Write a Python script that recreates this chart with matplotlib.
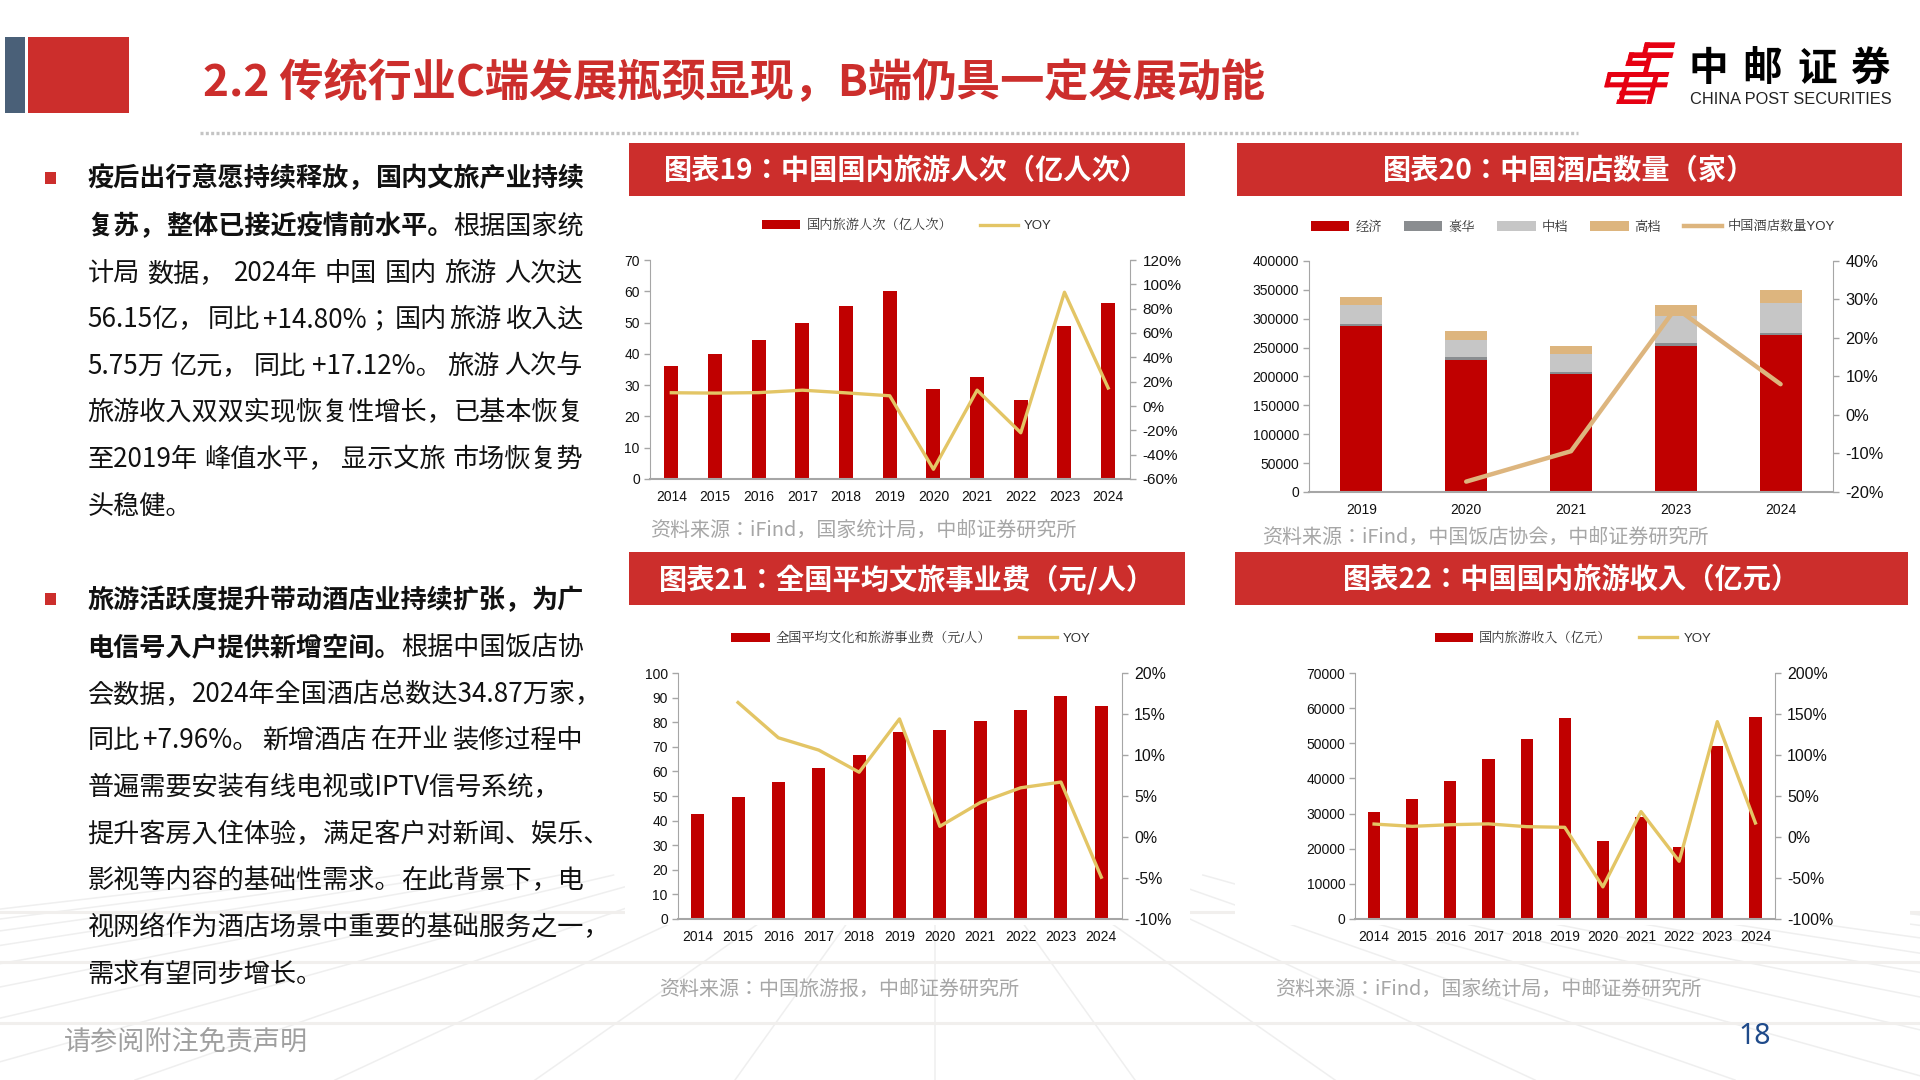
import matplotlib
matplotlib.use("Agg")
import matplotlib.pyplot as plt
import matplotlib.font_manager as fm
from matplotlib.patches import Rectangle, Polygon, Patch
from matplotlib.lines import Line2D

W, H = 1920, 1080
_have = {f.name for f in fm.fontManager.ttflist}
CJK = "Noto Sans CJK SC" if "Noto Sans CJK SC" in _have else "Noto Sans CJK JP"
SERIF = "Noto Serif CJK SC" if "Noto Serif CJK SC" in _have else ("Noto Serif CJK JP" if "Noto Serif CJK JP" in _have else CJK)
LAT = "Liberation Sans"
RED = "#CC2E2C"
BAR = "#C00000"
GOLD = "#E3C565"
TAN = "#DDB57E"
AXC = "#A6A6A6"

# ---------- data ----------
years11 = ["2014", "2015", "2016", "2017", "2018", "2019", "2020", "2021", "2022", "2023", "2024"]
trips = [36.1, 40.0, 44.4, 50.0, 55.4, 60.1, 28.8, 32.5, 25.3, 48.9, 56.15]
trips_yoy = [10.9, 10.6, 11.0, 13.0, 10.8, 8.4, -52.0, 13.0, -22.0, 93.5, 14.8]

hotel_years = ["2019", "2020", "2021", "2023", "2024"]
hotel_econ = [287500, 229400, 203500, 253600, 271000]
hotel_lux = [3500, 4600, 4500, 4400, 4500]
hotel_mid = [32300, 30000, 31000, 47000, 52500]
hotel_high = [14400, 15000, 14000, 18300, 21000]
hotel_yoy = [None, -17.3, -9.4, 27.8, 8.0]

spend = [42.7, 49.6, 55.6, 61.5, 66.5, 76.0, 77.0, 80.3, 85.1, 90.7, 86.4]
spend_yoy = [None, 16.4, 12.1, 10.6, 7.9, 14.4, 1.3, 4.2, 6.0, 6.7, -4.9]

income = [30400, 34200, 39400, 45600, 51200, 57200, 22200, 29100, 20400, 49200, 57500]
income_yoy = [15.8, 13.0, 15.0, 16.0, 12.6, 11.8, -60.8, 31.0, -29.6, 140.7, 17.1]

para1 = [
    [("疫后出行意愿持续释放，", 1), ("国内文旅产业持续", 1)],
    [("复苏，", 1), ("整体已接近疫情前水平。", 1), ("根据国家统", 0)],
    [("计局", 0), ("数据，", 0), ("2024年", 0), ("中国", 0), ("国内", 0), ("旅游", 0), ("人次达", 0)],
    [("56.15亿，", 0), ("同比", 0), ("+14.80%；", 0), ("国内", 0), ("旅游", 0), ("收入达", 0)],
    [("5.75万", 0), ("亿元，", 0), ("同比", 0), ("+17.12%。", 0), ("旅游", 0), ("人次与", 0)],
    [("旅游收入双双实现恢复性增长，", 0), ("已基本恢复", 0)],
    [("至2019年", 0), ("峰值水平，", 0), ("显示文旅", 0), ("市场恢复势", 0)],
    [("头稳健。", 0)],
]
para2 = [
    [("旅游活跃度提升带动酒店业持续扩张，", 1), ("为广", 1)],
    [("电信号入户提供新增空间。", 1), ("根据中国饭店协", 0)],
    [("会数据，", 0), ("2024年全国酒店总数达34.87万家，", 0)],
    [("同比", 0), ("+7.96%。", 0), ("新增酒店", 0), ("在开业", 0), ("装修过程中", 0)],
    [("普遍需要安装有线电视或IPTV信号系统，", 0)],
    [("提升客房入住体验，", 0), ("满足客户对新闻、娱乐、", 0)],
    [("影视等内容的基础性需求。", 0), ("在此背景下，电", 0)],
    [("视网络作为酒店场景中重要的基础服务之一，", 0)],
    [("需求有望同步增长。", 0)],
]
para1_y = [176, 224, 271, 317, 364, 410, 457, 504]
para2_y = [598, 645, 692, 738, 785, 832, 878, 925, 972]
para2_end = [583, 583, 594, 583, 0, 594, 583, 594, 0]

# ---------- figure ----------
fig = plt.figure(figsize=(W / 100, H / 100), dpi=100, facecolor="white")


def fx(x):
    return x / W


def fy(y):
    return 1 - y / H


def rect(x0, y0, x1, y1, color, z=2):
    fig.add_artist(Rectangle((fx(x0), fy(y1)), (x1 - x0) / W, (y1 - y0) / H,
                             transform=fig.transFigure, fc=color, ec="none", zorder=z))


def txt(x, y, s, size, color="black", weight="normal", ha="left", family=CJK, z=5):
    if family == CJK:
        y += 2.5
    return fig.text(fx(x), fy(y), s, fontsize=size, color=color, weight=weight, ha=ha,
                    va="center", family=family, zorder=z)


# faint perspective floor
VPX, VPY = 935, 800
for bx in range(-1465, 3400, 200):
    ys = 875
    t = (ys - VPY) / (1080 - VPY)
    xs = VPX + (bx - VPX) * t
    fig.add_artist(Line2D([fx(xs), fx(bx)], [fy(ys), fy(1080)], color="#EFEFEF", lw=1.1, zorder=0,
                          transform=fig.transFigure))
for yy in (912, 962, 1023):
    fig.add_artist(Line2D([0, 1], [fy(yy), fy(yy)], color="#F1EFED", lw=2.2, zorder=0,
                          transform=fig.transFigure))
# chart images sit on white
rect(625, 610, 1190, 925, "white", z=1)
rect(1235, 610, 1910, 925, "white", z=1)

# header
rect(5, 37, 25, 113, "#4A6078")
rect(28, 37, 129, 113, RED)
txt(203, 80.5, "2.2 传统行业C端发展瓶颈显现，B端仍具一定发展动能", 31.8, RED, "bold")
fig.add_artist(Line2D([fx(200), fx(1578)], [fy(133), fy(133)], color="#C4C4C4", lw=2.4,
                      ls=(0, (0.9, 0.7)), transform=fig.transFigure, zorder=2))

# logo
LOGO = "#E60012"


def lp(x, y):
    return (fx(1600 + x / 3), fy(38 + y / 3))


def bar_poly(x1, x2, y1, y2, s=0.26):
    d = s * (y2 - y1)
    fig.add_artist(Polygon([lp(x1, y1), lp(x2, y1), lp(x2 - d, y2), lp(x1 - d, y2)], closed=True,
                           fc=LOGO, ec="none", transform=fig.transFigure, zorder=3))


for b in [(135, 226, 13, 30), (88, 221, 43, 60), (80, 145, 68, 84), (24, 208, 102, 117),
          (19, 204, 133, 148), (60, 150, 158, 172), (52, 140, 184, 198)]:
    bar_poly(*b)
for b in [(135, 150, 13, 60), (88, 103, 43, 84), (140, 155, 60, 117), (24, 38, 102, 148),
          (74, 89, 117, 198), (160, 175, 117, 198)]:
    bar_poly(*b)
for i, ch in enumerate("中邮证券"):
    txt(1708 + i * 54.4, 66, ch, 28.5, "black", "bold", ha="center")
txt(1690, 99, "CHINA POST SECURITIES", 11.8, "#222222", family=LAT)

# left text
for yy in (178, 599):
    rect(44.5, yy - 6, 56, yy + 6, RED)


def draw_lines(lines, ys, ends):
    r = fig.canvas.get_renderer()
    for runs, y, end in zip(lines, ys, ends):
        items = [txt(0, y, s, 18.8, "#111111", "bold" if b else "normal") for s, b in runs]
        ws = [t.get_window_extent(r).width for t in items]
        gap = 0
        if end and len(items) > 1:
            gap = max(0, (end - 87.5 - sum(ws)) / (len(items) - 1))
        x = 87.5
        for t, w in zip(items, ws):
            t.set_x(fx(x))
            x += w + gap


draw_lines(para1, para1_y, [583] * 7 + [0])
draw_lines(para2, para2_y, para2_end)

# footer
txt(64, 1040, "请参阅附注免责声明", 19.5, "#A0A0A0")
txt(1755, 1037, "18", 20.5, "#1F4A8A", ha="center", family="Noto Sans")

# panel headers
heads = [
    (629, 143, 1185, 196, "图表19：中国国内旅游人次（亿人次）"),
    (1237, 143, 1902, 196, "图表20：中国酒店数量（家）"),
    (629, 552, 1185, 605, "图表21：全国平均文旅事业费（元/人）"),
    (1235, 552, 1908, 605, "图表22：中国国内旅游收入（亿元）"),
]
for x0, y0, x1, y1, s in heads:
    rect(x0, y0, x1, y1, RED)
    txt((x0 + x1) / 2, (y0 + y1) / 2 - 1, s, 20.3, "white", "bold", ha="center")

# source lines
txt(650, 528, "资料来源：iFind，国家统计局，中邮证券研究所", 14.4, "#A6A6A6")
txt(1262, 535, "资料来源：iFind，中国饭店协会，中邮证券研究所", 14.4, "#A6A6A6")
txt(659, 987, "资料来源：中国旅游报，中邮证券研究所", 14.4, "#A6A6A6")
txt(1275, 987, "资料来源：iFind，国家统计局，中邮证券研究所", 14.4, "#A6A6A6")


def panel(x0, x1, y0, y1, cats, ylim, yticks, rlim, rticks, rsize):
    ax = fig.add_axes([fx(x0), fy(y1), (x1 - x0) / W, (y1 - y0) / H])
    ax.patch.set_alpha(0)
    ax.set_xlim(-0.5, len(cats) - 0.5)
    ax.set_ylim(*ylim)
    ax.set_yticks(yticks)
    ax.set_xticks(range(len(cats)))
    ax.set_xticklabels(cats, family=LAT, fontsize=10, color="#111111")
    ax.tick_params(axis="x", length=0, pad=8)
    ax.tick_params(axis="y", length=4, width=1, color=AXC, labelsize=10, labelcolor="#111111", pad=3)
    for l in ax.get_yticklabels():
        l.set_family(LAT)
    for k in ("top", "right"):
        ax.spines[k].set_visible(False)
    for k in ("left", "bottom"):
        ax.spines[k].set_color(AXC)
    ax.spines["bottom"].set_linewidth(1.5)
    ax2 = ax.twinx()
    ax2.patch.set_alpha(0)
    ax2.set_ylim(*rlim)
    ax2.set_yticks(rticks)
    ax2.set_yticklabels([f"{v}%" for v in rticks], family=LAT, fontsize=rsize, color="#111111")
    ax2.tick_params(axis="y", length=4, width=1, color=AXC, pad=5)
    for k in ("top", "left", "bottom"):
        ax2.spines[k].set_visible(False)
    ax2.spines["right"].set_color(AXC)
    ax.set_zorder(3)
    ax2.set_zorder(4)
    return ax, ax2


def legend(ax2, handles, labels, xy, col_sp):
    ax2.legend(handles, labels, loc="center", bbox_to_anchor=(fx(xy[0]), fy(xy[1])),
               bbox_transform=fig.transFigure, ncol=len(handles), frameon=False,
               prop={"family": [LAT, SERIF], "size": 9.5}, handlelength=2.9, handletextpad=0.45,
               columnspacing=col_sp, labelcolor="#333333", borderpad=0, borderaxespad=0)


# chart 19
x = list(range(11))
ax, ax2 = panel(649.5, 1130, 260, 479, years11, (0, 70), list(range(0, 71, 10)), (-60, 120),
                list(range(-60, 121, 20)), 11)
ax.bar(x, trips, 0.32, color=BAR)
ax2.plot(x, trips_yoy, color=GOLD, lw=2.4)
legend(ax2, [Patch(fc=BAR), Line2D([], [], color=GOLD, lw=2.4)], ["国内旅游人次（亿人次）", "YOY"], (907, 226), 2.1)

# chart 20
xh = list(range(5))
ax, ax2 = panel(1309, 1833, 261, 492, hotel_years, (0, 400000), list(range(0, 400001, 50000)), (-20, 40),
                list(range(-20, 41, 10)), 11.8)
bottom = [0] * 5
cols = [BAR, "#8A8D90", "#C6C6C6", TAN]
names = ["经济", "豪华", "中档", "高档"]
for vals, c in zip([hotel_econ, hotel_lux, hotel_mid, hotel_high], cols):
    ax.bar(xh, vals, 0.40, bottom=bottom, color=c)
    bottom = [a + b for a, b in zip(bottom, vals)]
ax2.plot(xh[1:], hotel_yoy[1:], color=TAN, lw=3.2, solid_capstyle="round")
legend(ax2, [Patch(fc=c) for c in cols] + [Line2D([], [], color=TAN, lw=3.2)], names + ["中国酒店数量YOY"], (1573, 227), 1.7)

# chart 21
ax, ax2 = panel(677.5, 1121.5, 673, 919, years11, (0, 100), list(range(0, 101, 10)), (-10, 20),
                list(range(-10, 21, 5)), 11.4)
ax.bar(x, spend, 0.32, color=BAR)
ax2.plot(x[1:], spend_yoy[1:], color=GOLD, lw=2.4)
legend(ax2, [Patch(fc=BAR), Line2D([], [], color=GOLD, lw=2.4)], ["全国平均文化和旅游事业费（元/人）", "YOY"], (911, 638.5), 2.1)

# chart 22
ax, ax2 = panel(1355, 1774.5, 673, 919, years11, (0, 70000), list(range(0, 70001, 10000)), (-100, 200),
                list(range(-100, 201, 50)), 11.4)
ax.bar(x, income, 0.32, color=BAR)
ax2.plot(x, income_yoy, color=GOLD, lw=2.4)
legend(ax2, [Patch(fc=BAR), Line2D([], [], color=GOLD, lw=2.4)], ["国内旅游收入（亿元）", "YOY"], (1573, 638.5), 2.1)

fig.savefig("out.png", dpi=100, facecolor="white")
